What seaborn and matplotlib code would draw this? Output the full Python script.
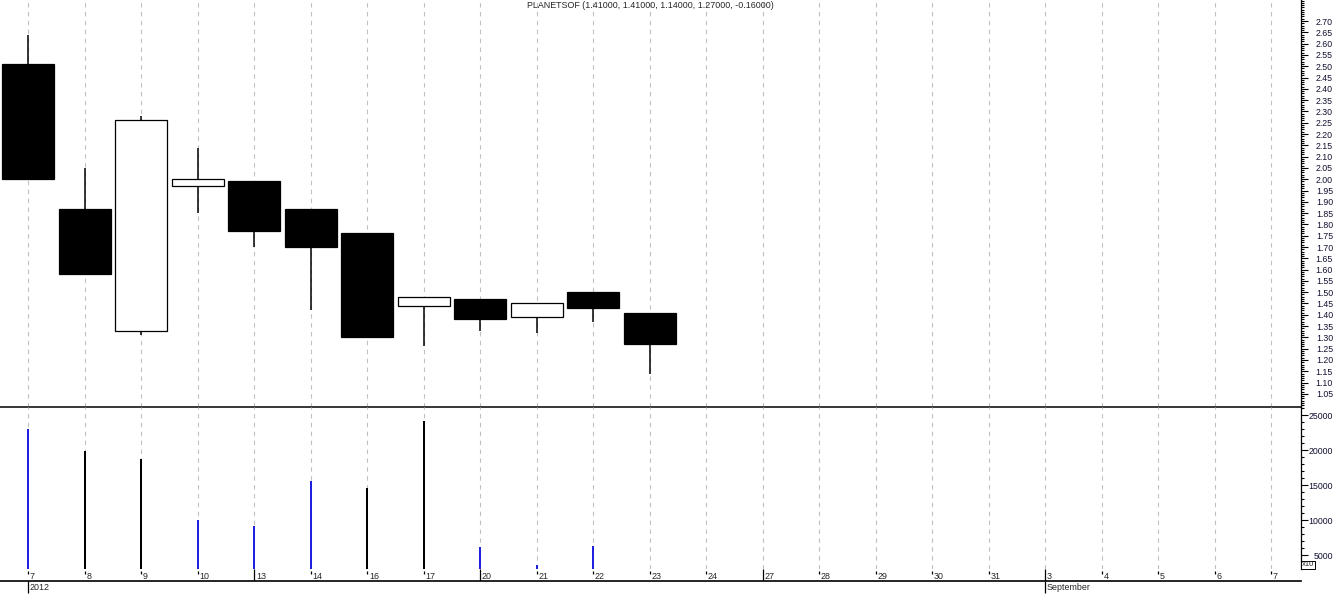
import numpy as np
import pandas as pd
import matplotlib
matplotlib.use("Agg")
import matplotlib.pyplot as plt
from matplotlib.ticker import MultipleLocator
import seaborn as sns

# daily OHLC for PLANETSOF, Aug 2012
day_labels = ["7", "8", "9", "10", "13", "14", "16", "17", "20", "21", "22", "23",
              "24", "27", "28", "29", "30", "31", "3", "4", "5", "6", "7"]
mondays = ["13", "20", "27", "3"]
opens = [2.51, 1.87, 1.33, 1.97, 1.99, 1.87, 1.76, 1.44, 1.47, 1.39, 1.50, 1.41]
highs = [2.64, 2.05, 2.28, 2.14, 1.99, 1.87, 1.76, 1.48, 1.47, 1.45, 1.50, 1.41]
lows = [2.00, 1.58, 1.31, 1.85, 1.70, 1.42, 1.30, 1.26, 1.33, 1.32, 1.37, 1.14]
closes = [2.00, 1.58, 2.26, 2.00, 1.77, 1.70, 1.30, 1.48, 1.38, 1.45, 1.43, 1.27]
volumes = [23000, 19900, 18700, 10000, 9100, 15600, 14600, 24100, 6100, 3600, 6300, 2000]
vol_side = ["b", "k", "k", "b", "b", "b", "k", "k", "b", "b", "b", "b"]
title = "PLANETSOF (1.41000, 1.41000, 1.14000, 1.27000, -0.16000)"

sns.set_style("white")
plt.rcParams["font.family"] = ["Liberation Sans", "DejaVu Sans"]

W, H = 1336, 600
fig = plt.figure(figsize=(W / 100, H / 100), dpi=100)
right = 1301 / W
ax = fig.add_axes([0, (H - 407) / H, right, 407 / H])
axv = fig.add_axes([0, (H - 569) / H, right, (569 - 407) / H])
axd = fig.add_axes([0, (H - 581) / H, right, 12 / H])
for a in (axv, axd):
    a.set_facecolor("none")

xlim = (-0.5, 22.53)
n_days = len(day_labels)
idx = np.arange(len(opens))

# vertical dashed grid
for a in (ax, axv):
    for i in range(n_days):
        a.axvline(i, color="#c0c0c0", lw=0.8, ls=(0, (4, 4)), zorder=0)

# candles
df = pd.DataFrame({"i": idx, "open": opens, "high": highs, "low": lows, "close": closes,
                   "volume": volumes, "side": vol_side})
ax.vlines(df["i"], df["low"], df["high"], color="black", lw=1.1, zorder=2)
up = df["close"] >= df["open"]
body_lo = df[["open", "close"]].min(axis=1)
body_h = (df["close"] - df["open"]).abs()
ax.bar(df["i"], body_h, bottom=body_lo, width=0.92,
       color=np.where(up, "white", "black"), edgecolor="black", linewidth=0.9, zorder=3)

ax.set_xlim(xlim)
ax.set_ylim(0.992, 2.793)
price_ticks = np.arange(1.05, 2.701, 0.05)
ax.set_yticks(price_ticks)
ax.set_yticklabels([f"{v:.2f}" for v in price_ticks])
ax.yaxis.set_minor_locator(MultipleLocator(0.01))
ax.text(0.5, 0.997, title, transform=ax.transAxes, ha="center", va="top", fontsize=6.4)

# volume
sns.barplot(data=df, x="i", y="volume", hue="side", palette={"b": "#0000ff", "k": "#000000"},
            native_scale=True, dodge=False, width=0.03, errorbar=None, linewidth=0,
            legend=False, ax=axv, zorder=2)
axv.set_xlim(xlim)
axv.set_ylim(3000, 26143)
vol_ticks = [5000, 10000, 15000, 20000, 25000]
axv.set_yticks(vol_ticks)
axv.set_yticklabels([str(v) for v in vol_ticks])
axv.yaxis.set_minor_locator(MultipleLocator(1000))
axv.set_xlabel("")
axv.set_ylabel("")

for a in (ax, axv):
    a.set_xticks([])
    a.yaxis.tick_right()
    a.tick_params(axis="y", which="major", direction="out", length=5, width=0.8,
                  labelsize=6.3, pad=18, labelcolor="#101030", color="black")
    a.tick_params(axis="y", which="minor", direction="out", length=2.5, width=0.8,
                  color="black")
    for lab in a.get_yticklabels():
        lab.set_horizontalalignment("right")
    for s in a.spines.values():
        s.set_color("black")
        s.set_linewidth(0.9)
    a.spines["left"].set_visible(False)
    a.spines["top"].set_visible(False)
axv.spines["bottom"].set_visible(False)
ax.spines["bottom"].set_linewidth(1.1)
ax.spines["bottom"].set_zorder(10)

# date axis row
axd.set_xlim(xlim)
axd.set_ylim(0, 1)
axd.set_xticks([])
axd.set_yticks([])
for s in ("left", "top", "right"):
    axd.spines[s].set_visible(False)
axd.spines["bottom"].set_linewidth(1.2)
axd.spines["bottom"].set_color("black")
for i, lab in enumerate(day_labels):
    if lab in mondays and i > 0:
        axd.vlines(i, 0, 1, color="black", lw=0.9)
    else:
        axd.vlines(i, 0.55, 0.85, color="black", lw=0.9)
    axd.text(i + 0.03, 0.4, lab, ha="left", va="center", fontsize=6.4)
for i, lab in [(0, "2012"), (18, "September")]:
    axd.vlines(i, -1.0, 0, color="black", lw=0.9, clip_on=False)
    axd.text(i + 0.03, -0.5, lab, ha="left", va="center", fontsize=6.4, clip_on=False)

fig.text(1302 / W, (H - 565) / H, "x10", fontsize=5.5, ha="left", va="center",
         bbox=dict(boxstyle="square,pad=0.1", fc="white", ec="black", lw=0.7))

fig.savefig("out.png", dpi=100)
